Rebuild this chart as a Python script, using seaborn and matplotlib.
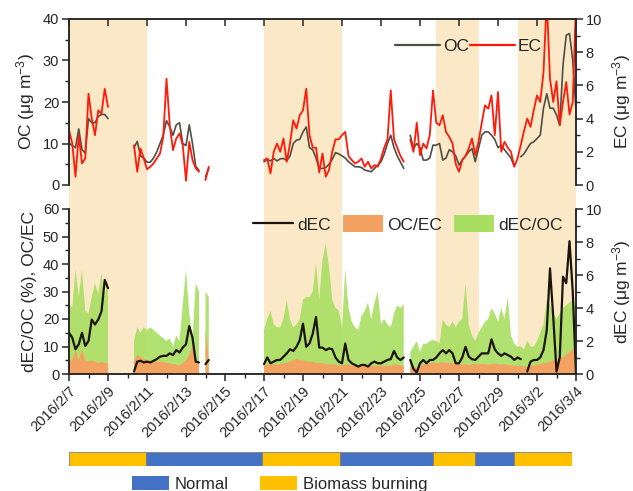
import numpy as np
import pandas as pd
import matplotlib
matplotlib.use('Agg')
import matplotlib.pyplot as plt
import matplotlib.dates as mdates
from matplotlib.ticker import MultipleLocator, FixedLocator, FixedFormatter, NullLocator
from matplotlib.lines import Line2D
from matplotlib.patches import Patch
import seaborn as sns

nan = np.nan

# ---------------- data ----------------
sample_start = '2016-02-07 00:00'
sample_end = '2016-03-04 00:00'
sample_step = '4h'

oc = ([10.1, 9.5, 9.0, 13.5, 8.5, 7.7, 16, 15, 15, 16.5, 17, 17, 16]
      + [nan] * 7
      + [9, 10.5, 7, 6.5, 5.5, 5.5, 6.5, 8, 10, 12, 15.5, 14, 12, 14.5, 15, 10, 9.5, 14.5, 10]
      + [4.5, 3.5, nan, 2, 4]
      + [nan] * 16
      + [5.6, 6.2, 5.8, 6.4, 5.8, 6.3, 6.4, 5.9, 7, 10, 10.8, 11, 12.8, 14, 9, 8.5, 6.5, 4, 4, 4.2,
         5, 6.2, 7.8, 7.5, 7, 6.5, 5.6, 5, 4.4, 4.4, 4.2, 3.6, 3.4, 3.2, 4, 4.8, 5.6, 7.5, 10, 12,
         9, 7, 5.5, 4]
      + [nan]
      + [12, 8.8, 10]
      + [9, 6, 6, 6.5, 9.6, 9.6, 10, 6, 6.5, 8.5, 8, 7, 4.8, 6, 7, 8, 8.8, 5.6, 8.8, 12,
         12.8, 12.8, 12, 11, 9, 9.6, 8.5, 7.5, 6.5, 4.5, nan, 6.8, 7.5, 8.8, 10, 10.4, 11.2, 12, 18.5, 22,
         18.5, 18.5, 16.9, 14.4, 28.9, 36.1, 36.5, 30, 18])

ec = ([3.3, 2.5, 0.5, 3.0, 1.3, 1.6, 5.5, 4.0, 3.0, 4.5, 4.3, 5.8, 4.7]
      + [nan] * 7
      + [2.4, 0.8, 2.2, 1.6, 0.95, 1.1, 1.3, 1.6, 1.9, 2.9, 6.4, 3.6, 2.1, 2.8, 3.1, 2.4, 0.25, 2.6, 1.5]
      + [1.0, 0.8, nan, 0.3, 1.1]
      + [nan] * 16
      + [1.5, 1.6, 0.7, 2.0, 2.5, 2.0, 2.8, 1.4, 2.5, 3.9, 3.4, 4.2, 4.5, 5.8, 3.0, 2.25, 2.25, 0.75, 1.9, 0.5,
         0.9, 2.0, 2.75, 2.75, 3.0, 3.2, 1.75, 1.5, 1.3, 1.4, 1.6, 1.1, 1.4, 1.0, 1.2, 1.1, 1.6, 2.25, 2.75, 5.7,
         2.75, 2.25, 1.75, 1.4]
      + [nan]
      + [2.75, 2.0, 3.75]
      + [1.8, 2.5, 2.2, 3.0, 5.7, 3.75, 3.6, 4.2, 3.2, 2.9, 2.5, 1.25, 0.8, 1.5, 1.75, 2.2, 2.8, 1.8, 2.6, 3.75,
         4.8, 4.6, 5.4, 3.0, 5.6, 2.0, 2.6, 2.25, 2.0, 1.1, 1.6, 2.4, 3.25, 4.0, 3.5, 4.5, 5.4, 5.0, 6.8, 11.2,
         6.4, 5.0, 6.25, 3.6, 5.0, 6.2, 4.25, 5.0, 11.0])

dec_oc = ([25.7, 24, 38, 28, 37.8, 23, 22, 28, 33, 29, 36.6, 28, 35]
          + [nan] * 7
          + [12, 17, 15, 17, 16, 17, 16, 15, 14, 13, 12, 13, 10, 14, 12, 25, 38, 22, 13]
          + [33, 30, nan, 30, 28]
          + [nan] * 16
          + [16, 20, 23, 18, 17, 17, 20, 27, 20, 17, 18, 20, 27, 28, 28, 30, 40, 27, 41.5, 47.5,
             39, 27, 24, 23, 17, 38, 24, 19, 17, 16, 21, 23, 26, 20, 26, 30, 18, 20, 18, 17,
             22, 25, 24, 25.5]
          + [nan]
          + [8, 10, 12]
          + [8, 11, 11, 12, 12.4, 12, 11, 19.6, 18, 17, 19, 17, 19, 20, 32.9, 18, 14, 12, 15, 17,
             19, 20, 24, 22, 19, 24, 20, 28, 14, 11, 10, 10, 9, 12, 10, 10, 12, 15, 18, 27,
             25, 22, 20, 22, 24, 25, 26, 27, 24])

oc_ec = ([4.5, 5, 9, 5, 9, 5, 4.5, 5, 4.5, 4, 4.5, 4, 4]
         + [nan] * 7
         + [4.5, 7, 6, 5.5, 5, 4.5, 4.5, 4.5, 4.5, 4.5, 4, 4, 3.5, 3.5, 3, 4, 5, 7, 10]
         + [4, 4, nan, 16, 5]
         + [nan] * 16
         + [3, 3.5, 3.5, 3.5, 3.5, 3.5, 4, 4, 4.5, 5, 5.5, 5, 5, 4.5, 4.5, 4.5, 4, 4, 4, 3.5,
            3.5, 3.5, 3.5, 3, 3, 3.5, 3.5, 3, 3, 3.1, 2.9, 3, 3.1, 3, 2.9, 3, 3.1, 3, 3, 3,
            3.5, 3.5, 3, 3]
         + [nan]
         + [2.5, 2.5, 2]
         + [3, 3.5, 3.5, 4, 4.1, 3.9, 4, 4.2, 4, 3.9, 4,
            3.5, 3.8, 3.4, 3.6, 3.3, 3.5, 3.7, 3.4, 3.6, 3.5, 3.3, 3.6, 3.8, 3.5, 3.4, 3.6, 3.3, 3.2,
            3, 3, 3, 2.7, 2.7, 3, 3, 3.5, 3.5, 4, 4, 4.5, 5, 5, 5.5, 6, 7, 8, 9, 10])

dec = ([2.5, 2.2, 1.5, 1.8, 2.5, 1.7, 2.0, 3.3, 3.0, 3.3, 3.8, 5.7, 5.2]
       + [nan] * 7
       + [0.15, 0.75, 0.8, 0.7, 0.75, 0.7, 0.8, 0.9, 1.05, 1.1, 1.1, 1.25, 1.15, 1.45, 1.3, 1.6, 1.8, 2.9, 2.2]
       + [0.75, 0.7, nan, 0.6, 0.85]
       + [nan] * 16
       + [0.6, 1.0, 0.65, 0.75, 0.85, 0.85, 1.05, 1.25, 1.5, 1.4, 1.65, 2.05, 3.05, 1.65, 1.85, 2.45, 3.45, 1.6, 1.6, 1.45,
          1.55, 1.5, 1.0, 0.75, 0.65, 1.85, 0.85, 0.65, 0.55, 0.45, 0.55, 0.55, 0.45, 0.65, 0.75, 0.65, 0.65, 0.75, 0.85, 0.9,
          1.4, 1.0, 0.85, 1.0]
       + [nan]
       + [0.85, 0.3, 0.1]
       + [0.65, 0.85, 0.65, 0.85, 0.85, 1.0, 1.25, 1.45, 1.25, 1.45, 1.25, 0.65, 0.65, 1.0, 1.65, 1.05, 0.9, 0.85, 1.05, 1.25,
          1.25, 1.25, 2.1, 1.5, 1.25, 1.1, 1.25, 1.15, 1.05, 0.85, 1.0, 0.9, nan, 0.15, 0.75, 0.85, 0.85, 1.0, 1.45, 2.65,
          6.4, 3.45, 0.15, 1.0, 5.9, 5.5, 8.05, 5.0, 0.0])

tick_labels = ['2016/2/7', '2016/2/9', '2016/2/11', '2016/2/13', '2016/2/15', '2016/2/17',
               '2016/2/19', '2016/2/21', '2016/2/23', '2016/2/25', '2016/2/27', '2016/2/29',
               '2016/3/2', '2016/3/4']

period_edges = ['2016-02-07 00:00', '2016-02-11 00:00', '2016-02-17 00:00', '2016-02-21 00:00',
                '2016-02-25 20:00', '2016-02-28 00:00', '2016-03-01 00:00', '2016-03-04 00:00']
period_types = ['Biomass burning', 'Normal', 'Biomass burning', 'Normal',
                'Biomass burning', 'Normal', 'Biomass burning']

# ---------------- style ----------------
sns.set_style('ticks')
plt.rcParams['font.family'] = ['Liberation Sans', 'DejaVu Sans']
plt.rcParams['mathtext.default'] = 'regular'
plt.rcParams['axes.linewidth'] = 1.1

c_oc = '#4f4f45'
c_ec = '#ff1a0a'
c_dec = '#1c1408'
c_ocec = '#f4a261'
c_decoc = '#a8de62'
c_shade = '#fae8c6'
c_bb = '#ffc000'
c_norm = '#4472c4'

times = pd.date_range(sample_start, sample_end, freq=sample_step)
tnum = mdates.date2num(times)
df = pd.DataFrame({'time': times, 'OC': oc, 'EC': ec, 'dEC/OC': dec_oc,
                   'OC/EC': oc_ec, 'dEC': dec})

def segments(col):
    d = df[['time', col]].copy()
    d['seg'] = d[col].isna().cumsum()
    return d.dropna()

edges = mdates.date2num(pd.to_datetime(period_edges))
x0, x1 = mdates.date2num(pd.Timestamp(sample_start)), mdates.date2num(pd.Timestamp(sample_end))
tick_pos = mdates.date2num(pd.to_datetime(tick_labels, format='%Y/%m/%d'))

W, H = 633, 491
fig = plt.figure(figsize=(W / 100, H / 100), dpi=100)

L, R = 69 / W, 576 / W
def fy(px):
    return 1 - px / H

# background shading axes
ax_bg = fig.add_axes([L, fy(374), R - L, fy(19) - fy(374)])
ax_bg.set_xlim(x0, x1)
ax_bg.set_ylim(0, 1)
ax_bg.axis('off')
for a, b, p in zip(edges[:-1], edges[1:], period_types):
    if p == 'Biomass burning':
        ax_bg.axvspan(a, b, color=c_shade, lw=0)

# top panel
ax_top = fig.add_axes([L, fy(185), R - L, fy(19) - fy(185)])
ax_top.patch.set_visible(False)
ax_top2 = ax_top.twinx()
sns.lineplot(data=segments('OC'), x='time', y='OC', units='seg', estimator=None,
             color=c_oc, lw=1.2, ax=ax_top, legend=False)
sns.lineplot(data=segments('EC'), x='time', y='EC', units='seg', estimator=None,
             color=c_ec, lw=1.3, ax=ax_top2, legend=False)
ax_top.set_ylim(0, 40)
ax_top2.set_ylim(0, 10)
for a in (ax_top, ax_top2):
    a.set_xlim(x0, x1)
    a.spines['bottom'].set_visible(False)
    a.set_xlabel('')
ax_top.yaxis.set_major_locator(MultipleLocator(10))
ax_top.yaxis.set_minor_locator(MultipleLocator(5))
ax_top2.yaxis.set_major_locator(MultipleLocator(2))
ax_top2.yaxis.set_minor_locator(MultipleLocator(1))
ax_top.xaxis.set_major_locator(FixedLocator(tick_pos))
ax_top.xaxis.set_minor_locator(NullLocator())
ax_top2.xaxis.set_major_locator(FixedLocator(tick_pos))
ax_top.tick_params(axis='x', which='major', direction='in', top=True, bottom=False,
                   labeltop=False, labelbottom=False, length=5, width=1.1)
ax_top2.tick_params(axis='x', which='both', bottom=False, labelbottom=False)
ax_top.set_ylabel('OC (μg m$^{-3}$)', fontsize=12.5, labelpad=4)
ax_top2.set_ylabel('EC (μg m$^{-3}$)', fontsize=12.5, labelpad=6)

# bottom panel
ax_bot = fig.add_axes([L, fy(374), R - L, fy(209) - fy(374)])
ax_bot.patch.set_visible(False)
ax_bot.fill_between(tnum, 0, np.array(dec_oc, float), color=c_decoc, lw=0, alpha=0.9)
ax_bot.fill_between(tnum, 0, np.array(oc_ec, float), color=c_ocec, lw=0)
ax_bot2 = ax_bot.twinx()
sns.lineplot(data=segments('dEC'), x='time', y='dEC', units='seg', estimator=None,
             color=c_dec, lw=1.6, ax=ax_bot2, legend=False)
ax_bot.set_ylim(0, 60)
ax_bot2.set_ylim(0, 10)
for a in (ax_bot, ax_bot2):
    a.set_xlim(x0, x1)
    a.spines['top'].set_visible(False)
ax_bot.yaxis.set_major_locator(MultipleLocator(10))
ax_bot.yaxis.set_minor_locator(MultipleLocator(5))
ax_bot2.yaxis.set_major_locator(MultipleLocator(2))
ax_bot2.yaxis.set_minor_locator(MultipleLocator(1))
ax_bot.xaxis.set_major_locator(FixedLocator(tick_pos))
ax_bot.xaxis.set_major_formatter(FixedFormatter(tick_labels))
ax_bot.xaxis.set_minor_locator(mdates.DayLocator())
ax_bot2.xaxis.set_major_locator(FixedLocator(tick_pos))
ax_bot2.xaxis.set_major_formatter(FixedFormatter(tick_labels))
ax_bot2.xaxis.set_minor_locator(mdates.DayLocator())
ax_bot2.tick_params(axis='x', which='both', bottom=False, labelbottom=False)
ax_bot2.set_xlabel('')
ax_bot.set_xlabel('')
ax_bot.tick_params(axis='x', which='major', direction='out', length=5, width=1.1, labelsize=10.5, pad=2)
ax_bot.tick_params(axis='x', which='minor', direction='out', length=3, width=1.0)
for lab in ax_bot.get_xticklabels():
    lab.set_rotation(45)
    lab.set_ha('right')
    lab.set_va('top')
    lab.set_rotation_mode('anchor')
ax_bot.set_ylabel('dEC/OC (%), OC/EC', fontsize=12.5, labelpad=4)
ax_bot2.set_ylabel('dEC (μg m$^{-3}$)', fontsize=12.5, labelpad=6)

for a in (ax_top, ax_top2, ax_bot, ax_bot2):
    a.tick_params(axis='y', which='major', direction='out', length=5, width=1.1, labelsize=10.5, pad=2)
    a.tick_params(axis='y', which='minor', direction='out', length=3, width=1.0)

# legends
fig.legend(handles=[Line2D([], [], color=c_oc, lw=1.6), Line2D([], [], color=c_ec, lw=1.6)],
           labels=['OC', 'EC'], loc='center left', bbox_to_anchor=(395 / W, fy(46)),
           ncol=2, frameon=False, fontsize=12.5, handlelength=2.6, handletextpad=0.15,
           columnspacing=0.05, borderpad=0, borderaxespad=0)
fig.legend(handles=[Line2D([], [], color=c_dec, lw=1.6),
                    Patch(facecolor=c_ocec, edgecolor='none'),
                    Patch(facecolor=c_decoc, edgecolor='none')],
           labels=['dEC', 'OC/EC', 'dEC/OC'], loc='center left', bbox_to_anchor=(253 / W, fy(224)),
           ncol=3, frameon=False, fontsize=12.5, handlelength=2.3, handleheight=1.15,
           handletextpad=0.25, columnspacing=0.7, borderpad=0, borderaxespad=0)

# period band
ax_band = fig.add_axes([L, fy(466), 572 / W - L, fy(452) - fy(466)])
ax_band.set_xlim(x0, x1)
ax_band.set_ylim(0, 1)
ax_band.axis('off')
for a, b, p in zip(edges[:-1], edges[1:], period_types):
    ax_band.axvspan(a, b, facecolor=c_bb if p == 'Biomass burning' else c_norm,
                    edgecolor='#7f7f7f', lw=0.6)

fig.legend(handles=[Patch(facecolor=c_norm, edgecolor='none'), Patch(facecolor=c_bb, edgecolor='none')],
           labels=['Normal', 'Biomass burning'], loc='center left', bbox_to_anchor=(132 / W, fy(484)),
           ncol=2, frameon=False, fontsize=12, handlelength=2.2, handleheight=0.9,
           handletextpad=0.35, columnspacing=1.9, borderpad=0, borderaxespad=0)

fig.savefig('out.png', dpi=100)
